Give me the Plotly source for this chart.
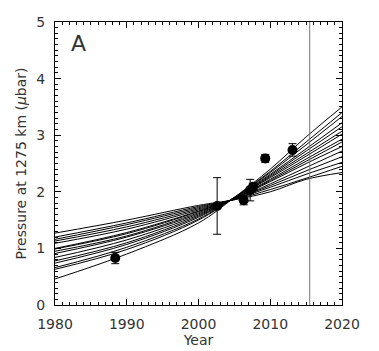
import plotly.graph_objects as go

# Model curve sample years and values
curve_years = [1980, 1990, 2000, 2005, 2010, 2015, 2020]
curves = [
    [0.46, 0.90, 1.45, 1.90, 2.40, 2.97, 3.50],
    [0.63, 0.98, 1.50, 1.90, 2.36, 2.88, 3.40],
    [0.66, 1.02, 1.52, 1.90, 2.34, 2.83, 3.33],
    [0.74, 1.07, 1.55, 1.90, 2.31, 2.76, 3.22],
    [0.78, 1.10, 1.57, 1.89, 2.29, 2.72, 3.15],
    [0.84, 1.15, 1.59, 1.89, 2.27, 2.67, 3.07],
    [0.91, 1.20, 1.61, 1.89, 2.25, 2.63, 3.02],
    [0.95, 1.22, 1.63, 1.88, 2.22, 2.58, 2.93],
    [0.99, 1.26, 1.65, 1.88, 2.20, 2.54, 2.88],
    [1.00, 1.28, 1.66, 1.88, 2.18, 2.50, 2.80],
    [1.09, 1.34, 1.68, 1.87, 2.14, 2.43, 2.72],
    [1.13, 1.38, 1.70, 1.87, 2.11, 2.37, 2.62],
    [1.16, 1.42, 1.72, 1.87, 2.08, 2.31, 2.52],
    [1.20, 1.45, 1.74, 1.86, 2.04, 2.24, 2.45],
    [1.27, 1.50, 1.76, 1.86, 2.00, 2.22, 2.34],
]

# Observations
obs_year = [1988.4, 2002.6, 2006.3, 2007.2, 2007.6, 2009.3, 2013.1]
obs_pressure = [0.83, 1.75, 1.85, 2.03, 2.09, 2.59, 2.74]
obs_err = [0.10, 0.50, 0.08, 0.19, 0.06, 0.07, 0.11]

nh_year = 2015.5

fig = go.Figure()
for c in curves:
    fig.add_trace(go.Scatter(x=curve_years, y=c, mode="lines",
                             line=dict(color="black", width=1, shape="spline"),
                             showlegend=False, hoverinfo="skip"))

fig.add_trace(go.Scatter(x=obs_year, y=obs_pressure, mode="markers",
                         marker=dict(color="black", size=10, symbol="circle"),
                         error_y=dict(type="data", array=obs_err, visible=True,
                                      color="black", thickness=1, width=4),
                         showlegend=False))

fig.add_vline(x=nh_year, line=dict(color="#777777", width=1))

font = dict(family="DejaVu Sans", size=14, color="#333333")
axis_common = dict(showgrid=False, zeroline=False, showline=True, linecolor="black",
                   linewidth=1, mirror="ticks", ticks="inside", ticklen=6,
                   tickcolor="black", tickfont=font, automargin=False)

fig.update_xaxes(range=[1980, 2020], dtick=10, tick0=1980,
                 minor=dict(dtick=1, ticks="inside", ticklen=3, tickcolor="black"),
                 title=dict(text="Year", font=font, standoff=0),
                 ticklabelstandoff=6, **axis_common)
fig.update_yaxes(range=[0, 5], dtick=1, tick0=0,
                 minor=dict(dtick=0.1, ticks="inside", ticklen=3, tickcolor="black"),
                 title=dict(text="Pressure at 1275 km (<i>μ</i>bar)", font=font, standoff=6),
                 ticklabelstandoff=6, **axis_common)

fig.add_annotation(text="A", xref="paper", yref="paper", x=0.05, y=0.975,
                   xanchor="left", yanchor="top", showarrow=False,
                   font=dict(family="DejaVu Sans", size=22, color="#333333"))

fig.update_layout(width=379, height=351, margin=dict(l=55, r=37, t=22, b=46),
                  plot_bgcolor="white", paper_bgcolor="white", font=font)

fig.write_html("out.html")
